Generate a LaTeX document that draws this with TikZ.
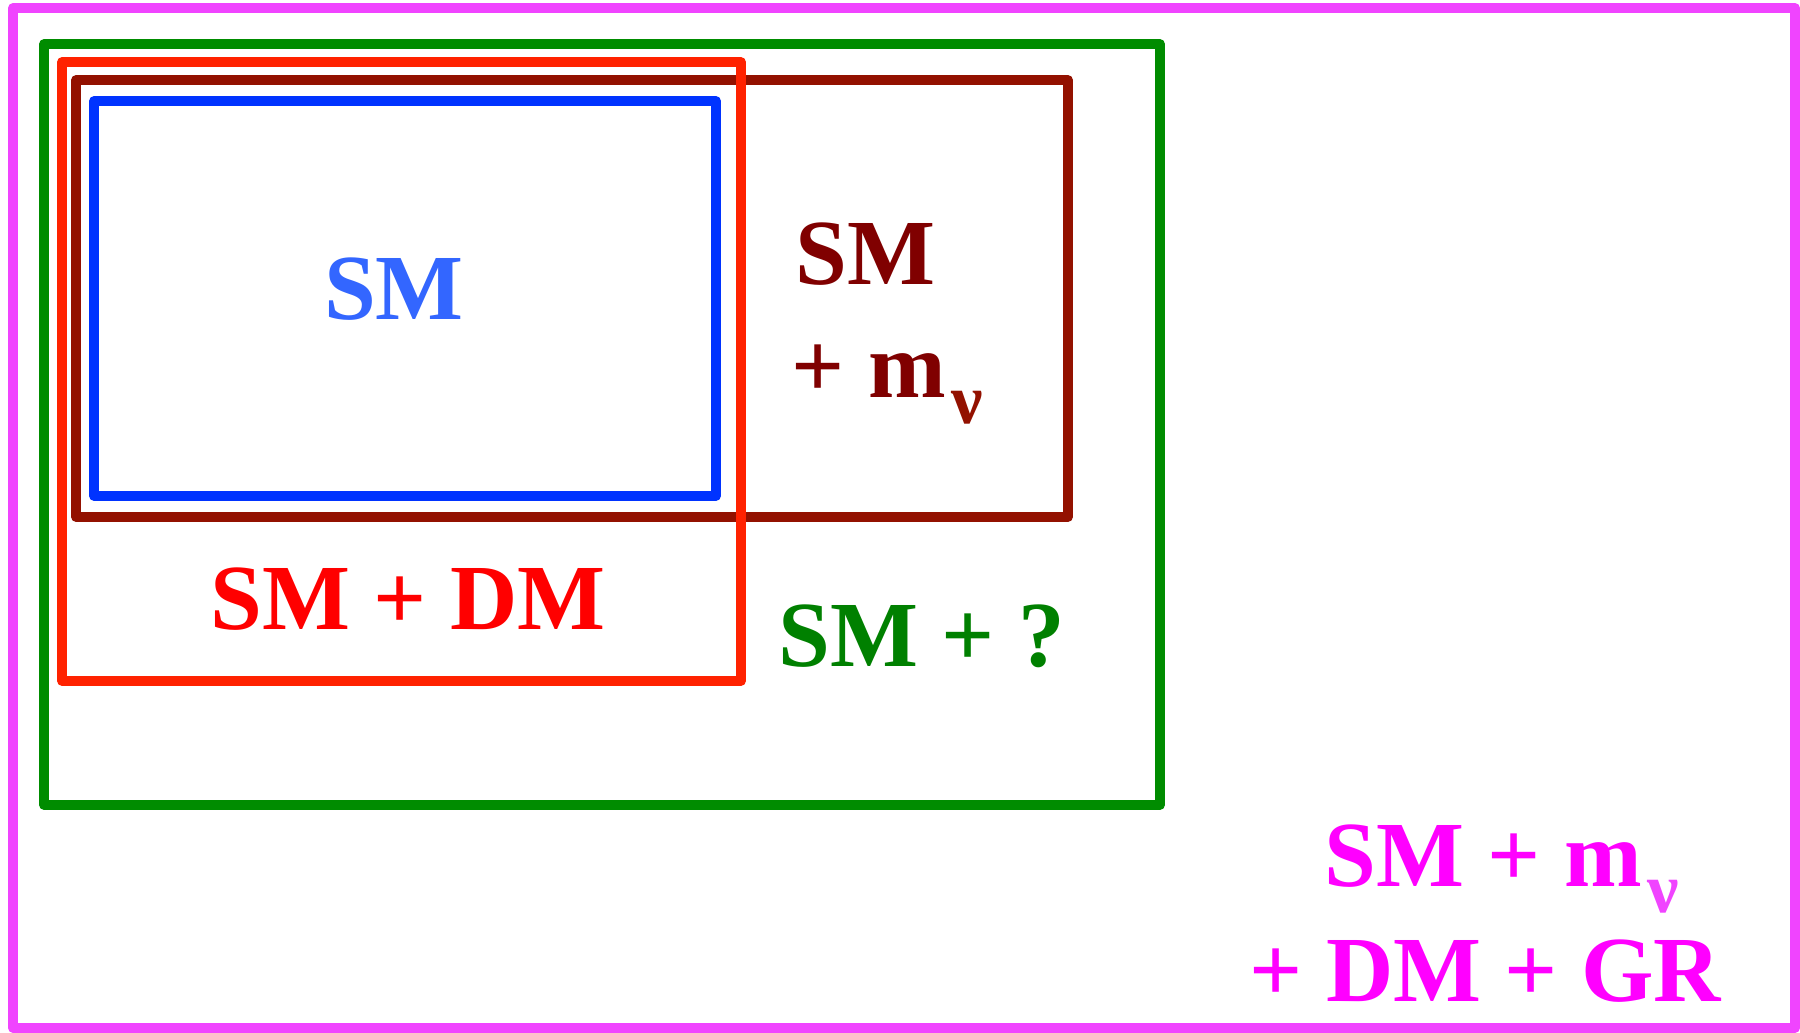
\documentclass[tikz,border=0pt]{standalone}
\usepackage{fontspec}
\setmainfont{Liberation Serif}
\usepackage{xcolor}
\usetikzlibrary{positioning}
\definecolor{framemag}{HTML}{F044FF}
\definecolor{boxgreen}{HTML}{008C00}
\definecolor{boxred}{HTML}{FF2200}
\definecolor{boxbrown}{HTML}{931100}
\definecolor{boxblue}{HTML}{0033FF}
\definecolor{txtblue}{HTML}{3366FF}
\definecolor{txtbrown}{HTML}{800000}
\definecolor{txtred}{HTML}{FF0000}
\definecolor{txtgreen}{HTML}{008000}
\definecolor{txtmag}{HTML}{FF00FF}
\newcommand{\nuidx}[1]{\kern1.5pt\raisebox{-7.6pt}{\textcolor{#1}{\fontsize{20}{20}\selectfont ν}}}

\begin{document}
\begin{tikzpicture}[
        x=0.01cm, y=-0.01cm,
        setbox/.style={
            line width=2.7pt,
            line join=round
        },
        setlabel/.style={
            font=\bfseries\fontsize{26.5}{32.5}\selectfont,
            inner sep=0pt
        }
    ]
    \useasboundingbox (0,0) rectangle (1800,1032);

    % nested sets, outermost first
    \draw[setbox, framemag, line width=2.8pt] (13,8) rectangle (1795,1028);
    \draw[setbox, boxgreen] (44,44) rectangle (1160,805);
    \draw[setbox, boxbrown] (76,80) rectangle (1068,517);
    \draw[setbox, boxblue] (94,101) rectangle (716,496);
    \draw[setbox, boxred] (62,62) rectangle (741,681);

    \node[setlabel, text=txtblue, anchor=base] (sm) at (394,319) {SM};

    \node[setlabel, text=txtbrown, anchor=base west] (smnuA) at (795,284) {SM};
    \node[setlabel, text=txtbrown, anchor=base west] (smnuB) at (791,397) {+ m\nuidx{boxbrown}};

    \node[setlabel, text=txtred, anchor=base] (smdm) at (408,629) {SM + DM};

    \node[setlabel, text=txtgreen, anchor=base west] (smq) at (778,666) {SM + ?};

    \node[setlabel, text=txtmag, anchor=base west] (allA) at (1324,886) {SM + m\nuidx{framemag}};
    \node[setlabel, text=txtmag, anchor=base west] (allB) at (1249,1001) {+ DM + GR};

\end{tikzpicture}
\end{document}
